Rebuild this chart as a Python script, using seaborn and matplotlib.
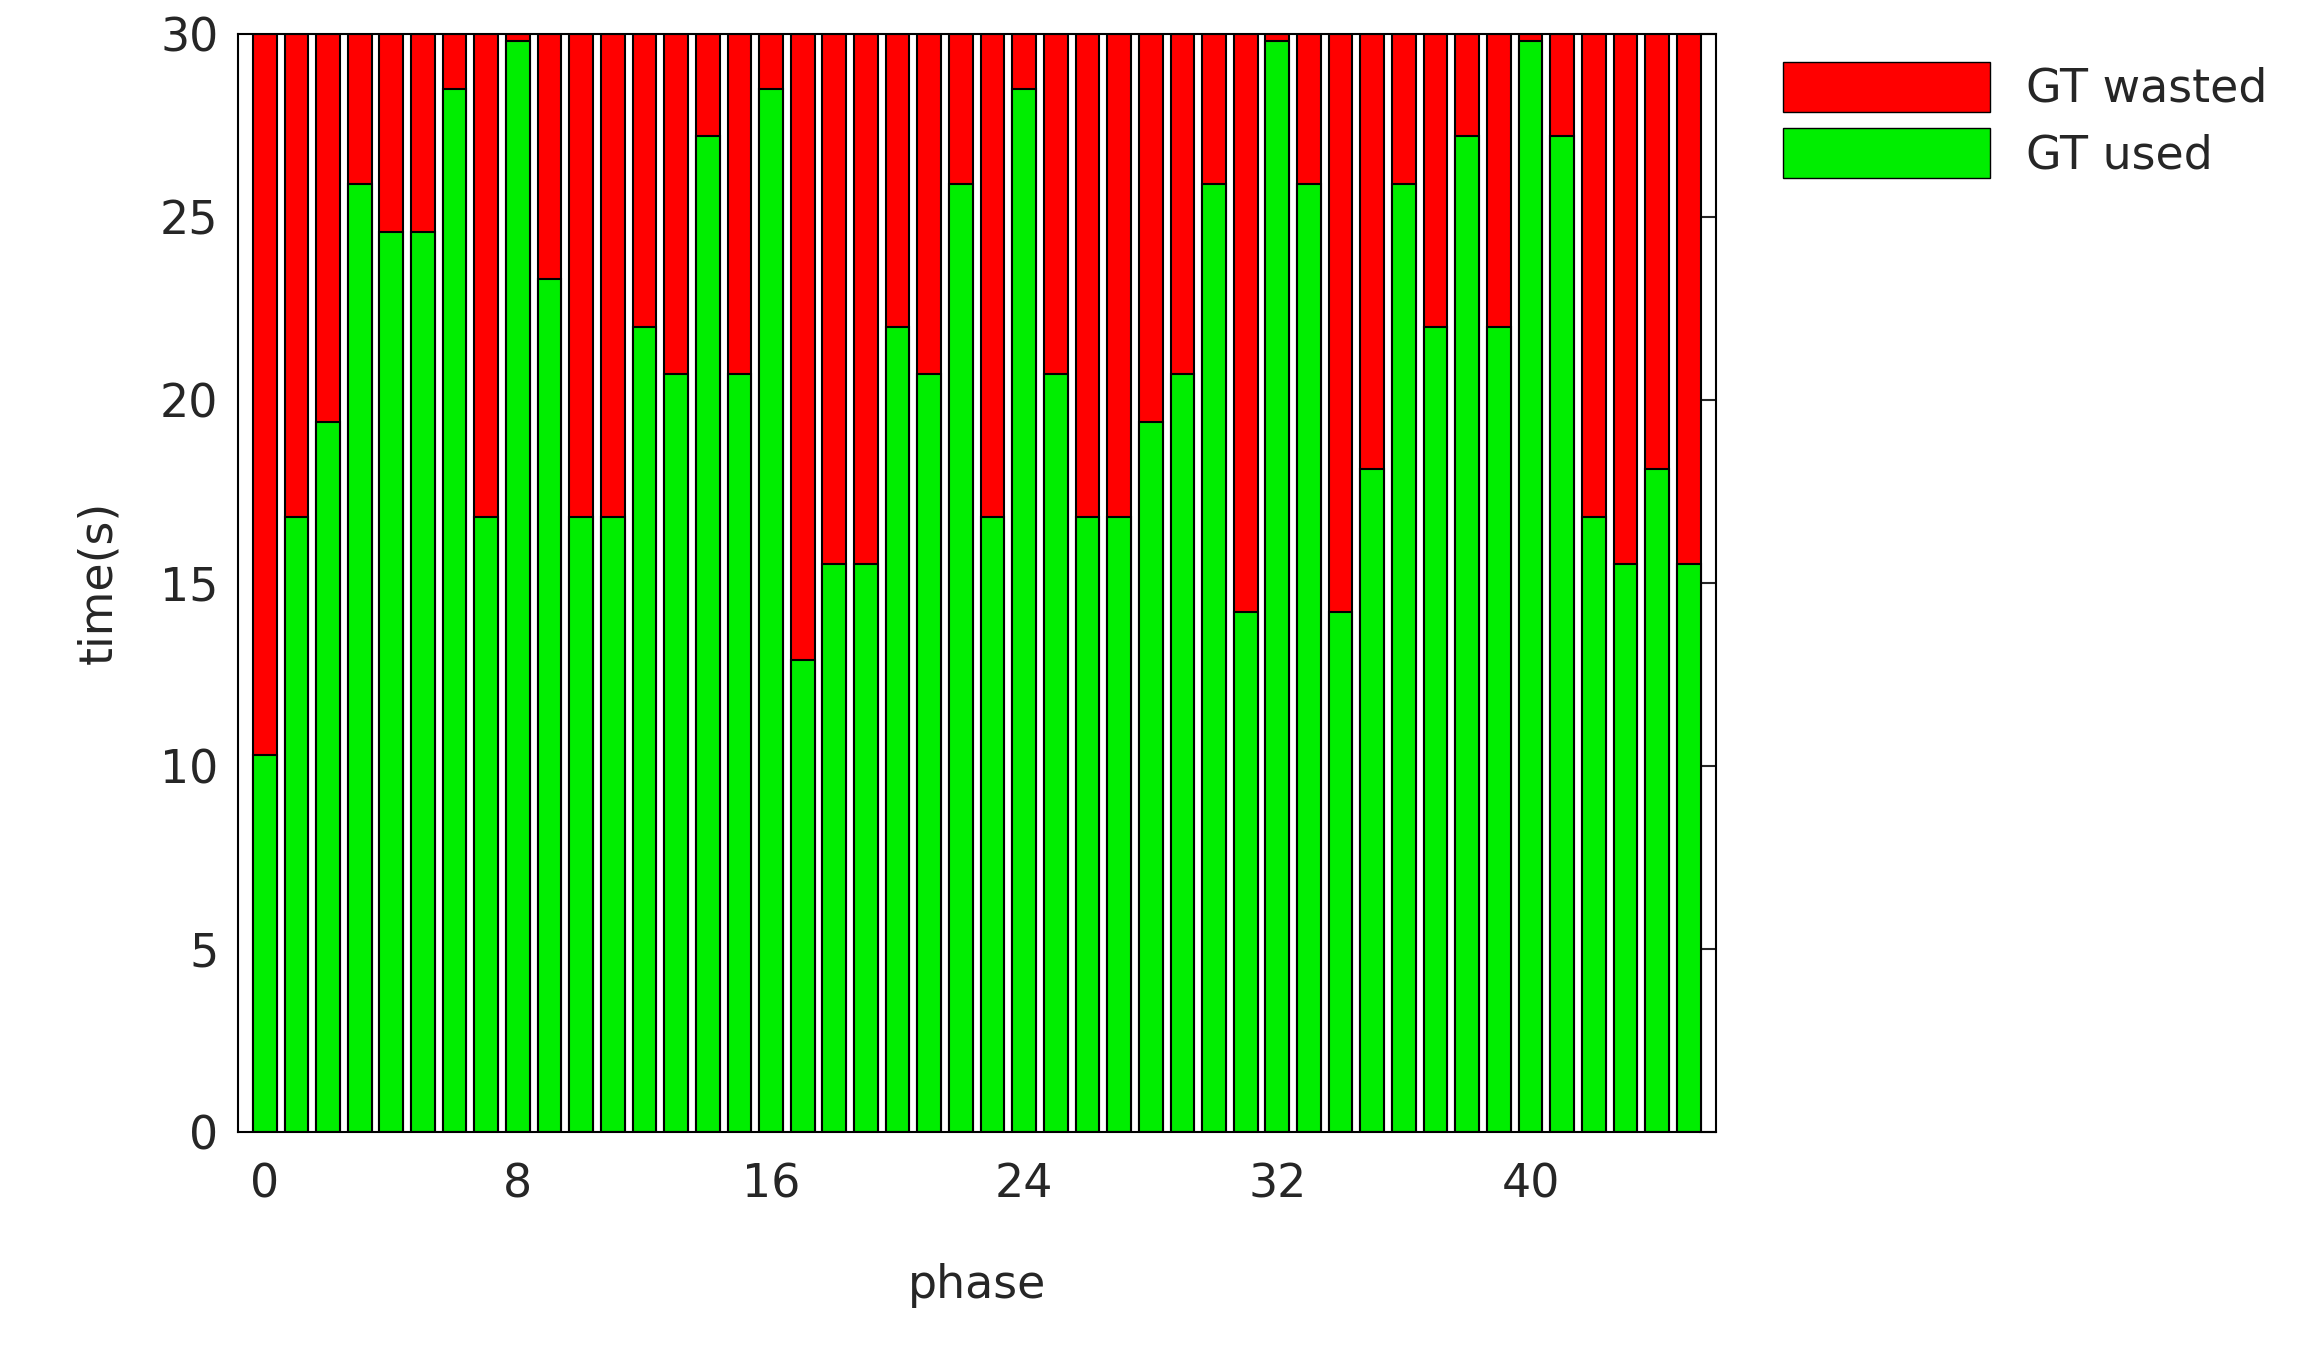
import numpy as np
import pandas as pd
import matplotlib
matplotlib.use("Agg")
import matplotlib.pyplot as plt
import seaborn as sns
from matplotlib.patches import Patch

phase = list(range(46))
gt_used = [10.3, 16.8, 19.4, 25.9, 24.6, 24.6, 28.5, 16.8, 29.8, 23.3,
           16.8, 16.8, 22.0, 20.7, 27.2, 20.7, 28.5, 12.9, 15.5, 15.5,
           22.0, 20.7, 25.9, 16.8, 28.5, 20.7, 16.8, 16.8, 19.4, 20.7,
           25.9, 14.2, 29.8, 25.9, 14.2, 18.1, 25.9, 22.0, 27.2, 22.0,
           29.8, 27.2, 16.8, 15.5, 18.1, 15.5]
cycle_len = 30
gt_total = [cycle_len] * len(phase)  # used + wasted

df = pd.DataFrame({"phase": phase, "used": gt_used, "total": gt_total})

sns.set_style("white")
plt.rcParams['font.family'] = ['DejaVu Sans']

fig = plt.figure(figsize=(23.09, 13.6), dpi=100)
ax = fig.add_axes([0.103, 0.168, 0.640, 0.807])

sns.barplot(data=df, x="phase", y="total", native_scale=True, color="#ff0000",
            saturation=1, width=0.75, edgecolor="black", linewidth=1.5, ax=ax)
sns.barplot(data=df, x="phase", y="used", native_scale=True, color="#00ee00",
            saturation=1, width=0.75, edgecolor="black", linewidth=1.5, ax=ax)

ax.set_xlim(-0.85, 45.85)
ax.set_ylim(0, 30)
ax.set_xticks([0, 8, 16, 24, 32, 40])
ax.set_yticks([0, 5, 10, 15, 20, 25, 30])
ax.tick_params(axis="both", labelsize=33, direction="in", length=12, width=1.5,
               right=True, top=False, pad=14)
ax.tick_params(axis="x", length=0, pad=22)
for s in ax.spines.values():
    s.set_linewidth(1.5)
    s.set_color("black")
ax.set_xlabel("phase", fontsize=33, labelpad=40)
ax.set_ylabel("time(s)", fontsize=33, labelpad=28)

handles = [Patch(facecolor="#ff0000", edgecolor="black", label="GT wasted"),
           Patch(facecolor="#00ee00", edgecolor="black", label="GT used")]
fig.legend(handles=handles, loc="upper right", bbox_to_anchor=(1.0, 0.985),
           fontsize=33, frameon=False, handlelength=4.5, handleheight=1.3,
           labelspacing=0.35, handletextpad=0.8)

fig.savefig("out.png", dpi=100)
